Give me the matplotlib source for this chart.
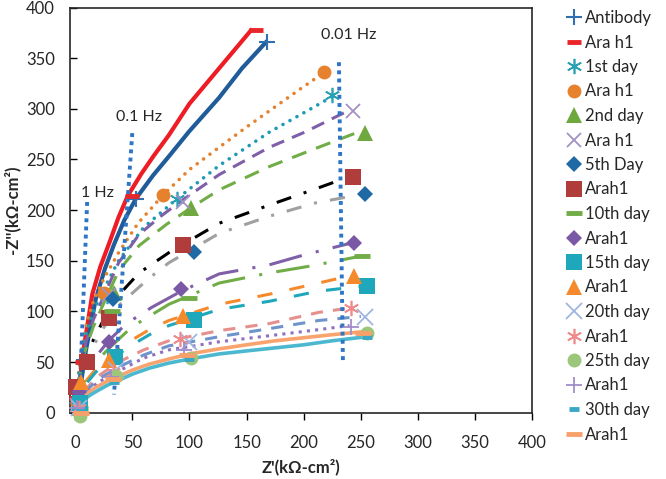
import matplotlib
matplotlib.use("Agg")
import matplotlib.pyplot as plt

plt.rcParams['font.family'] = ['Lato', 'DejaVu Sans']
plt.rcParams['mathtext.default'] = 'regular'

# ---------------- data ----------------
labels = ["Antibody", "Ara h1", "1st day", "Ara h1", "2nd day", "Ara h1", "5th Day",
          "Arah1", "10th day", "Arah1", "15th day", "Arah1", "20th day", "Arah1",
          "25th day", "Arah1", "30th day", "Arah1"]

# marker points: Z' and Z''
m_x = [
    [2, 8, 53, 168],      # Antibody
    [1, 6, 50, 158],      # Ara h1
    [3, 28, 89, 225],     # 1st day
    [2, 25, 77, 218],     # Ara h1
    [3, 34, 101, 254],    # 2nd day
    [2, 30, 94, 243],     # Ara h1
    [4, 33, 104, 254],    # 5th Day
    [1, 10, 30, 94, 243], # Arah1
    [4, 32, 100, 251],    # 10th day
    [3, 30, 93, 244],     # Arah1
    [4, 35, 104, 255],    # 15th day
    [5, 30, 94, 244],     # Arah1
    [3, 36, 100, 254],    # 20th day
    [3, 33, 92, 241],     # Arah1
    [4, 36, 101, 255],    # 25th day
    [2, 31, 95, 241],     # Arah1
    [5, 34, 100, 255],    # 30th day
    [5, 33, 98, 252],     # Arah1
]
m_y = [
    [10, 52, 211, 366],
    [15, 50, 214, 378],
    [10, 115, 211, 314],
    [10, 118, 215, 336],
    [5, 118, 202, 276],
    [8, 116, 208, 298],
    [5, 112, 159, 216],
    [25, 50, 93, 166, 233],
    [5, 100, 113, 155],
    [20, 70, 122, 168],
    [10, 55, 92, 125],
    [30, 52, 95, 135],
    [5, 42, 70, 94],
    [5, 40, 73, 103],
    [-3, 36, 54, 79],
    [5, 35, 62, 85],
    [2, 30, 53, 75],
    [0, 33, 57, 79],
]

# curves drawn in the reference (Z', Z'')
c_x = [
    [0.5, 3.3, 7.7, 15, 22, 30, 38, 46, 58, 69, 82, 100, 126, 155],
    [1, 4.5, 9.5, 18, 26, 34, 43, 53, 68, 82, 100, 126, 146, 168],
    [1, 3, 6, 10, 16, 25, 38, 55, 77, 100, 126, 150, 170, 195, 218],
    [1, 3, 6, 10, 16, 25, 38, 60, 89, 126, 170, 200, 228],
    [1, 3, 6, 10, 16, 25, 38, 56, 75, 94, 126, 170, 201, 237],
    [1, 3, 6, 10, 16, 25, 38, 56, 80, 101, 126, 170, 213, 250],
    [1, 3, 6, 10, 16, 25, 38, 56, 82, 126, 170, 213, 235],
    [1, 3, 6, 10, 16, 25, 40, 65, 82, 126, 170, 210, 243],
    [1, 3, 6, 10, 18, 30, 45, 67, 93, 126, 170, 201, 240],
    [1, 3, 6, 10, 18, 30, 50, 82, 126, 170, 207, 252],
    [1, 3, 6, 10, 18, 30, 47, 65, 82, 126, 170, 213, 240],
    [1, 3, 6, 10, 18, 30, 47, 65, 82, 126, 170, 213, 252],
    [1, 3, 6, 10, 20, 38, 60, 82, 126, 170, 213, 238],
    [1, 3, 6, 10, 20, 38, 60, 82, 126, 170, 213, 250],
    [1, 3, 6, 10, 20, 38, 60, 82, 126, 170, 213, 240],
    [1, 2, 4, 8, 12, 18, 28, 38, 50, 65, 82, 100, 126, 150, 175, 200, 225, 252],
    [2, 3, 5, 9, 14, 20, 28, 38, 50, 65, 82, 100, 126, 150, 175, 200, 225, 255],
]
c_y = [
    [0, 25, 65, 117, 144, 168, 193, 214, 236, 254, 274, 305, 340, 379],
    [0, 25, 62, 112, 142, 166, 190, 211, 234, 253, 278, 311, 340, 367],
    [0, 40, 65, 88, 110, 132, 158, 187, 215, 240, 262, 282, 298, 318, 336],
    [0, 36, 58, 80, 100, 122, 150, 183, 211, 244, 277, 296, 314],
    [0, 32, 52, 72, 92, 115, 148, 176, 194, 210, 235, 262, 277, 297],
    [0, 28, 48, 66, 85, 108, 140, 165, 186, 202, 220, 243, 262, 278],
    [0, 20, 38, 55, 72, 92, 116, 138, 158, 187, 205, 222, 231],
    [0, 18, 34, 50, 66, 84, 108, 133, 148, 177, 194, 207, 214],
    [0, 14, 27, 39, 55, 72, 88, 104, 120, 137, 146, 156, 167],
    [0, 13, 25, 36, 50, 64, 85, 107, 128, 138, 145, 155],
    [0, 12, 22, 32, 43, 55, 70, 82, 91, 107, 117, 128, 135],
    [0, 11, 20, 29, 40, 51, 65, 77, 86, 102, 110, 120, 125],
    [0, 9, 17, 24, 36, 50, 62, 71, 81, 88, 99, 103],
    [0, 8, 15, 22, 33, 45, 57, 66, 75, 83, 91, 95],
    [0, 7, 14, 20, 30, 41, 54, 62, 70, 76, 82, 86],
    [0, 5, 10, 16, 20, 25, 31, 36, 42, 48, 53, 58, 63, 67, 71, 74, 77, 80],
    [0, 5, 9, 14, 18, 22, 27, 32, 38, 44, 49, 53, 58, 61, 64, 67, 71, 75],
]

# frequency guide lines
f_labels = ["1 Hz", "0.1 Hz", "0.01 Hz"]
f_x = [[10.5, 3.5], [50, 34], [230.8, 234.3]]
f_y = [[208, 5], [276, 18], [346, 50]]
f_text_x = [5, 36, 215]
f_text_y = [217, 292, 373]

x_ticks = [0, 50, 100, 150, 200, 250, 300, 350, 400]
y_ticks = [0, 50, 100, 150, 200, 250, 300, 350, 400]

# ---------------- styles ----------------
m_style = [
    dict(marker='+', color='#2f6eb0', ms=11, mew=1.5),
    dict(marker='_', color='#e8262a', ms=10, mew=3.5),
    dict(marker=(6, 2, 0), color='#2aa0b5', ms=11, mew=1.2),
    dict(marker='o', color='#e6822e', ms=10, mew=0),
    dict(marker='^', color='#6fa83f', ms=11, mew=0),
    dict(marker='x', color='#a490c4', ms=10, mew=1.3),
    dict(marker='D', color='#1f6aa5', ms=8, mew=0),
    dict(marker='s', color='#b03c3c', ms=11, mew=0),
    dict(marker='_', color='#70ad47', ms=12, mew=3.5),
    dict(marker='D', color='#7b58a6', ms=8, mew=0),
    dict(marker='s', color='#1fa8bc', ms=11, mew=0),
    dict(marker='^', color='#f58a2d', ms=11, mew=0),
    dict(marker='x', color='#9fb5e0', ms=11, mew=1.3),
    dict(marker=(6, 2, 0), color='#ef8a8a', ms=11, mew=1.2),
    dict(marker='o', color='#9cc67a', ms=10, mew=0),
    dict(marker='+', color='#a08cc8', ms=11, mew=1.3),
    dict(marker='_', color='#3aa7c4', ms=7, mew=3.5),
    dict(marker='_', color='#f7a06a', ms=12, mew=3.5),
]

lw = 2.2
c_style = [
    dict(color='#ee1c24', lw=3.0, ls='-'),
    dict(color='#1f5c99', lw=3.0, ls='-'),
    dict(color='#e6822e', lw=2.6, ls=(0, (0.01, 2.2)), dash_capstyle='round'),
    dict(color='#1e9bb3', lw=2.6, ls=(0, (0.01, 2.2)), dash_capstyle='round'),
    dict(color='#7f5fa8', lw=lw, ls=(0, (4.4, 2.8))),
    dict(color='#70ad47', lw=lw, ls=(0, (5, 3.4))),
    dict(color='#000000', lw=lw, ls=(0, (5, 4.3, 1, 4.3))),
    dict(color='#a0a0a0', lw=lw, ls=(0, (5, 4.3, 1, 4.3))),
    dict(color='#7f5fa8', lw=lw, ls=(0, (11, 4.7, 1, 4.7))),
    dict(color='#70ad47', lw=lw, ls=(0, (11, 4.7, 1, 4.7))),
    dict(color='#f58a2d', lw=lw, ls=(0, (5, 5.7))),
    dict(color='#1fa8bc', lw=lw, ls=(0, (5, 5.7))),
    dict(color='#e6908e', lw=lw, ls=(0, (4, 3.3))),
    dict(color='#6f94cc', lw=lw, ls=(0, (4, 3.3))),
    dict(color='#8f6fc0', lw=lw, ls=(0, (1, 1.7))),
    dict(color='#f9a36e', lw=2.6, ls='-'),
    dict(color='#4bb8d0', lw=2.6, ls='-'),
]

# ---------------- figure ----------------
fig = plt.figure(figsize=(6.66, 4.79), dpi=100)
top_px, bot_px, left_px, right_px = 7.5, 412.7, 70, 532.3
ax = fig.add_axes([left_px / 666, 1 - bot_px / 479,
                   (right_px - left_px) / 666, (bot_px - top_px) / 479])

for xs, ys, st in zip(c_x, c_y, c_style):
    ax.plot(xs, ys, solid_capstyle='butt', solid_joinstyle='round', zorder=2, **st)

for i, (xs, ys) in enumerate(zip(f_x, f_y)):
    ax.plot(xs, ys, color='#2e75c6', lw=2.8, ls=(0, (1, 1.1)), zorder=3)
    ax.text(f_text_x[i], f_text_y[i], f_labels[i], fontsize=11.5, color='#262626',
            va='center', ha='left', zorder=4)

handles = []
for lab, xs, ys, st in zip(labels, m_x, m_y, m_style):
    st = dict(st)
    h, = ax.plot(xs, ys, ls='none', marker=st.pop('marker'), color=st['color'],
                 markersize=st['ms'], markeredgewidth=st['mew'], label=lab,
                 zorder=5, clip_on=False)
    handles.append(h)

ax.set_xlim(-4.5, 400)
ax.set_ylim(0, 400)
ax.set_xticks(x_ticks)
ax.set_yticks(y_ticks)
ax.tick_params(axis='x', direction='out', length=5, width=1, labelsize=12,
               labelcolor='#262626', pad=11)
ax.tick_params(axis='y', direction='in', length=5, width=1, labelsize=12,
               labelcolor='#262626', pad=11)
for sp in ax.spines.values():
    sp.set_linewidth(1.2)
    sp.set_color('#262626')

ax_w = right_px - left_px
ax_h = bot_px - top_px
ax.set_xlabel("Z'(kΩ-cm²)", fontsize=12, fontweight='bold', color='#262626')
ax.xaxis.set_label_coords(0.5, -(459 - bot_px) / ax_h)
ax.set_ylabel("-Z''(kΩ-cm²)", fontsize=12, fontweight='bold', color='#262626')
ax.yaxis.set_label_coords(-(left_px - 20) / ax_w, 0.5)

fig.legend(handles=handles, loc='upper left', bbox_to_anchor=(567 / 666, 1 - 10 / 479),
           frameon=False, fontsize=12, handlelength=0.8, handletextpad=0.3,
           labelspacing=0.51, borderpad=0, borderaxespad=0, labelcolor='#262626')

fig.savefig("out.png", dpi=100)
